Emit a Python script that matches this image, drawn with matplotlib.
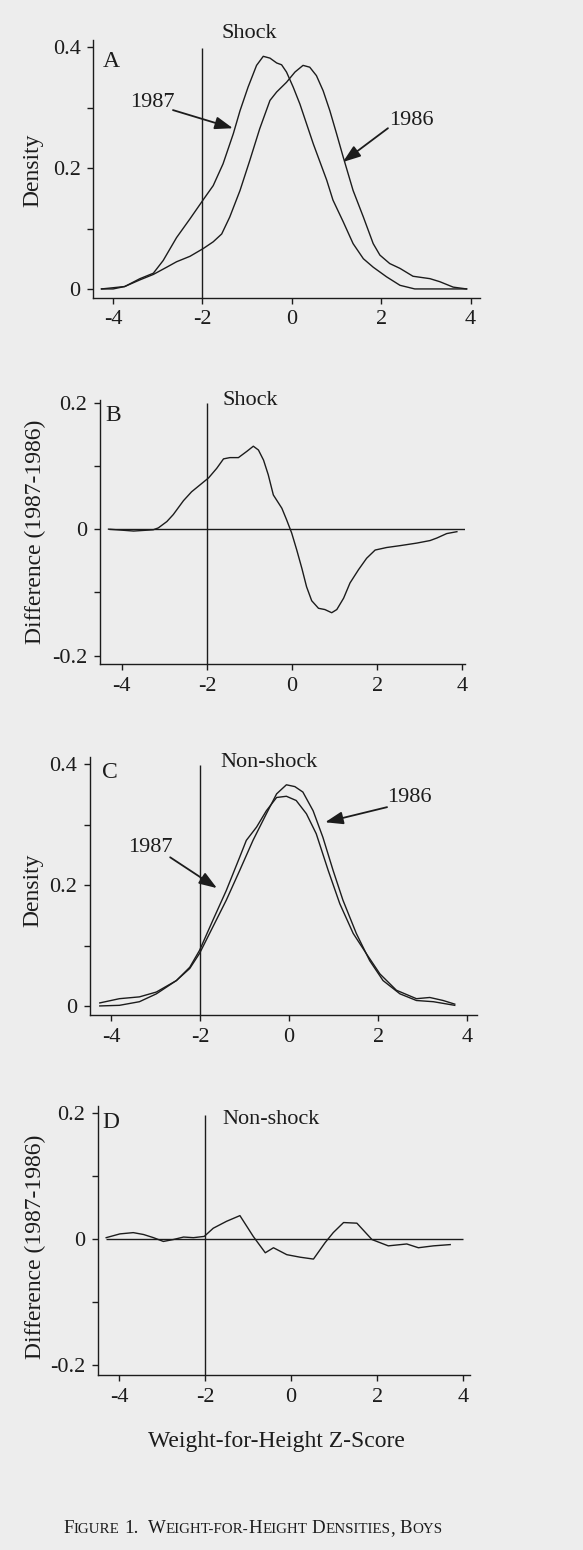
import matplotlib
matplotlib.use("Agg")
import matplotlib.pyplot as plt
from matplotlib.transforms import blended_transform_factory

plt.rcParams['font.family'] = ['Liberation Serif', 'DejaVu Serif']
plt.rcParams['axes.unicode_minus'] = False

# ---------------- data ----------------
x_ticks = [-4, -2, 0, 2, 4]
x_tick_labels = ['-4', '-2', '0', '2', '4']
dens_ticks = [0, 0.2, 0.4]
dens_tick_labels = ['0', '0.2', '0.4']
dens_minor = [0.1, 0.3]
diff_ticks = [-0.2, 0, 0.2]
diff_tick_labels = ['-0.2', '0', '0.2']
diff_minor = [-0.1, 0.1]
cutoff = -2

# Panel A: shock densities
z_a_1987 = [-4.26, -4.00, -3.74, -3.40, -3.10, -2.88, -2.58, -2.28, -1.98, -1.76, -1.54,
            -1.31, -1.16, -0.98, -0.79, -0.64, -0.49, -0.34, -0.23, -0.12, 0.03, 0.18, 0.33,
            0.48, 0.63, 0.78, 0.92, 1.15, 1.37, 1.60, 1.82, 2.12, 2.42, 2.75, 3.16, 3.91]
d_a_1987 = [0.0, 0.0, 0.004, 0.017, 0.026, 0.047, 0.085, 0.116, 0.148, 0.171, 0.207,
            0.257, 0.295, 0.334, 0.370, 0.385, 0.382, 0.374, 0.371, 0.359, 0.334, 0.306, 0.273,
            0.240, 0.210, 0.180, 0.147, 0.111, 0.075, 0.050, 0.036, 0.020, 0.006, 0.0, 0.0, 0.0]
z_a_1986 = [-4.26, -3.74, -3.40, -3.10, -2.80, -2.58, -2.28, -1.98, -1.76, -1.57, -1.39,
            -1.16, -0.94, -0.72, -0.49, -0.34, -0.12, 0.07, 0.25, 0.40, 0.55, 0.70, 0.85,
            1.00, 1.15, 1.37, 1.60, 1.82, 1.97, 2.19, 2.42, 2.71, 3.09, 3.31, 3.61, 3.91]
d_a_1986 = [0.0, 0.004, 0.015, 0.024, 0.036, 0.045, 0.054, 0.067, 0.078, 0.091, 0.119,
            0.163, 0.213, 0.265, 0.312, 0.326, 0.342, 0.359, 0.370, 0.367, 0.353, 0.328, 0.295,
            0.257, 0.218, 0.163, 0.119, 0.075, 0.056, 0.042, 0.034, 0.021, 0.017, 0.012,
            0.003, 0.0]

# Panel B: shock difference (1987-1986)
z_b = [-4.31, -3.72, -3.49, -3.26, -3.14, -2.94, -2.79, -2.55, -2.36, -2.16, -1.96, -1.77,
       -1.61, -1.46, -1.26, -1.06, -0.91, -0.79, -0.67, -0.56, -0.44, -0.24, -0.13, -0.01,
       0.11, 0.23, 0.34, 0.46, 0.62, 0.77, 0.93, 1.05, 1.21, 1.36, 1.56, 1.75, 1.95, 2.22,
       2.54, 2.93, 3.24, 3.40, 3.63, 3.87]
d_b = [0.0, -0.003, -0.002, -0.001, 0.002, 0.012, 0.023, 0.045, 0.059, 0.070, 0.081, 0.096,
       0.111, 0.113, 0.113, 0.123, 0.131, 0.125, 0.109, 0.086, 0.054, 0.033, 0.015, -0.006,
       -0.033, -0.062, -0.091, -0.113, -0.125, -0.127, -0.132, -0.127, -0.109, -0.085,
       -0.064, -0.046, -0.033, -0.029, -0.026, -0.022, -0.018, -0.014, -0.007, -0.004]

# Panel C: non-shock densities
z_c_1986 = [-4.25, -3.81, -3.36, -2.98, -2.53, -2.23, -2.01, -1.71, -1.41, -1.11, -0.81,
            -0.51, -0.28, -0.06, 0.13, 0.31, 0.54, 0.76, 0.99, 1.21, 1.51, 1.81, 2.11, 2.49,
            2.86, 3.24, 3.72]
d_c_1986 = [0.0, 0.001, 0.007, 0.020, 0.042, 0.062, 0.087, 0.131, 0.175, 0.224, 0.274,
            0.318, 0.351, 0.366, 0.363, 0.354, 0.323, 0.279, 0.224, 0.175, 0.120, 0.075,
            0.042, 0.020, 0.009, 0.007, 0.001]
z_c_1987 = [-4.25, -3.81, -3.36, -2.98, -2.53, -2.23, -2.01, -1.71, -1.41, -1.11, -0.96,
            -0.73, -0.51, -0.28, -0.06, 0.16, 0.39, 0.61, 0.88, 1.14, 1.44, 1.74, 2.04, 2.41,
            2.86, 3.16, 3.46, 3.72]
d_c_1987 = [0.005, 0.012, 0.015, 0.023, 0.042, 0.064, 0.092, 0.142, 0.191, 0.246, 0.274,
            0.296, 0.323, 0.345, 0.347, 0.340, 0.318, 0.285, 0.224, 0.169, 0.120, 0.086,
            0.053, 0.026, 0.012, 0.014, 0.009, 0.003]

# Panel D: non-shock difference (1987-1986)
z_d = [-4.30, -3.98, -3.67, -3.43, -3.20, -2.97, -2.74, -2.50, -2.27, -2.02, -1.81, -1.50,
       -1.19, -0.88, -0.60, -0.41, -0.10, 0.21, 0.52, 0.79, 0.98, 1.22, 1.53, 1.88, 2.26,
       2.69, 2.96, 3.31, 3.70]
d_d = [0.002, 0.008, 0.010, 0.007, 0.002, -0.004, -0.001, 0.003, 0.002, 0.004, 0.017, 0.028,
       0.037, 0.004, -0.022, -0.014, -0.025, -0.029, -0.032, -0.006, 0.010, 0.026, 0.025,
       -0.001, -0.011, -0.008, -0.014, -0.011, -0.009]

# ---------------- styling ----------------
W, H = 583, 1550
BG = '#ededed'
INK = '#1c1c1c'
LW = 1.0
FS = 16

fig = plt.figure(figsize=(W / 100, H / 100), dpi=100, facecolor=BG)


def px_axes(left, right, top, bottom):
    return fig.add_axes([left / W, 1 - bottom / H, (right - left) / W, (bottom - top) / H])


def style(ax, xlim, ylim, yt, ytl, ymin):
    ax.set_facecolor(BG)
    ax.set_xlim(*xlim)
    ax.set_ylim(*ylim)
    for s in ['top', 'right']:
        ax.spines[s].set_visible(False)
    for s in ['left', 'bottom']:
        ax.spines[s].set_color(INK)
        ax.spines[s].set_linewidth(1.0)
    ax.set_xticks(x_ticks)
    ax.set_xticklabels(x_tick_labels)
    ax.set_yticks(yt)
    ax.set_yticklabels(ytl)
    ax.set_yticks(ymin, minor=True)
    ax.tick_params(axis='both', which='both', direction='out', length=4, width=1.0,
                   color=INK, labelcolor=INK, labelsize=FS, pad=5)
    ax.tick_params(axis='y', which='minor', length=4)


def title(ax, xdata, yaxes, txt):
    tr = blended_transform_factory(ax.transData, ax.transAxes)
    ax.text(xdata, yaxes, txt, transform=tr, ha='left', va='center', fontsize=FS, color=INK,
            clip_on=False)


def letter(ax, xa, ya, txt):
    ax.text(xa, ya, txt, transform=ax.transAxes, ha='left', va='center', fontsize=FS + 1,
            color=INK)


def arrow(ax, head, tail, label, label_xy):
    ax.annotate('', xy=head, xytext=tail,
                arrowprops=dict(arrowstyle='-|>,head_length=0.9,head_width=0.32',
                                mutation_scale=12, color=INK, lw=1.3,
                                shrinkA=0, shrinkB=0))
    ax.text(label_xy[0], label_xy[1], label, ha='center', va='center', fontsize=FS, color=INK)


# Panel A
axA = px_axes(93, 480, 40, 298)
style(axA, (-4.45, 4.21), (-0.015, 0.412), dens_ticks, dens_tick_labels, dens_minor)
axA.plot(z_a_1987, d_a_1987, color=INK, lw=LW)
axA.plot(z_a_1986, d_a_1986, color=INK, lw=LW)
axA.vlines(cutoff, -0.015, 0.398, color=INK, lw=LW)
title(axA, -1.57, 1.027, 'Shock')
letter(axA, 0.026, 0.915, 'A')
arrow(axA, (-1.32, 0.266), (-2.66, 0.296), '1987', (-3.13, 0.309))
arrow(axA, (1.14, 0.210), (2.15, 0.266), '1986', (2.68, 0.279))

# Panel B
axB = px_axes(100, 465, 400, 664)
style(axB, (-4.51, 4.06), (-0.213, 0.204), diff_ticks, diff_tick_labels, diff_minor)
axB.hlines(0, -4.3, 4.05, color=INK, lw=LW)
axB.vlines(cutoff, -0.213, 0.2, color=INK, lw=LW)
axB.plot(z_b, d_b, color=INK, lw=LW)
title(axB, -1.64, 1.0, 'Shock')
letter(axB, 0.014, 0.943, 'B')

# Panel C
axC = px_axes(90, 477, 757, 1015)
style(axC, (-4.47, 4.22), (-0.015, 0.412), dens_ticks, dens_tick_labels, dens_minor)
axC.plot(z_c_1986, d_c_1986, color=INK, lw=LW)
axC.plot(z_c_1987, d_c_1987, color=INK, lw=LW)
axC.vlines(cutoff, -0.015, 0.398, color=INK, lw=LW)
title(axC, -1.55, 0.977, 'Non-shock')
letter(axC, 0.031, 0.938, 'C')
arrow(axC, (0.81, 0.304), (2.20, 0.329), '1986', (2.70, 0.345))
arrow(axC, (-1.62, 0.195), (-2.67, 0.246), '1987', (-3.12, 0.263))

# Panel D
axD = px_axes(98, 470, 1106, 1375)
style(axD, (-4.49, 4.16), (-0.216, 0.211), diff_ticks, diff_tick_labels, diff_minor)
axD.hlines(0, -4.3, 4.0, color=INK, lw=LW)
axD.vlines(cutoff, -0.216, 0.197, color=INK, lw=LW)
axD.plot(z_d, d_d, color=INK, lw=LW)
title(axD, -1.6, 0.948, 'Non-shock')
letter(axD, 0.011, 0.937, 'D')

# y labels
fig.text(33 / W, 1 - 170 / H, 'Density', rotation=90, ha='center', va='center',
         fontsize=FS + 1, color=INK)
fig.text(33 / W, 1 - 890 / H, 'Density', rotation=90, ha='center', va='center',
         fontsize=FS + 1, color=INK)
fig.text(35 / W, 1 - 532 / H, 'Difference (1987-1986)', rotation=90, ha='center',
         va='center', fontsize=FS + 1, color=INK)
fig.text(35 / W, 1 - 1247 / H, 'Difference (1987-1986)', rotation=90, ha='center',
         va='center', fontsize=FS + 1, color=INK)

# x label
fig.text(276 / W, 1 - 1442 / H, 'Weight-for-Height Z-Score', ha='center', va='center',
         fontsize=FS + 1, color=INK)

# caption in small caps
BIG, SMALL = 13.6, 10.8
runs = [('F', BIG), ('IGURE', SMALL), (' ', BIG), ('1.', BIG), ('  ', BIG), ('W', BIG),
        ('EIGHT-FOR-', SMALL), ('H', BIG), ('EIGHT', SMALL), (' ', BIG), ('D', BIG),
        ('ENSITIES', SMALL), (',', BIG), (' ', BIG), ('B', BIG), ('OYS', SMALL)]
renderer = fig.canvas.get_renderer()
xpos = 63.0
ybase = 1 - 1533 / H
for txt, size in runs:
    if txt.strip() == '':
        xpos += len(txt) * size * 0.25 * 100 / 72
        continue
    t = fig.text(xpos / W, ybase, txt, fontsize=size, color=INK, ha='left', va='baseline')
    bb = t.get_window_extent(renderer=renderer)
    xpos += bb.width

fig.savefig('out.png', dpi=100, facecolor=BG)
